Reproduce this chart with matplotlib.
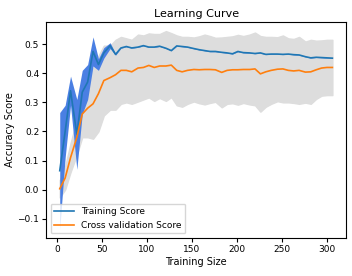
import matplotlib
matplotlib.use('Agg')
import matplotlib.pyplot as plt
import numpy as np

train_sizes = [3, 9, 15, 22, 28, 34, 40, 46, 52, 59, 65, 71, 77, 83, 90, 96, 102,
               108, 114, 121, 127, 133, 139, 145, 152, 158, 164, 170, 176, 183,
               189, 195, 201, 207, 214, 220, 226, 232, 238, 245, 251, 257, 263,
               269, 276, 282, 288, 294, 300, 306]

train_mean = [0.065, 0.20, 0.34, 0.19, 0.335, 0.37, 0.475, 0.43, 0.47, 0.495,
              0.465, 0.487, 0.492, 0.487, 0.490, 0.495, 0.490, 0.490, 0.493,
              0.486, 0.478, 0.494, 0.492, 0.490, 0.485, 0.481, 0.478, 0.475,
              0.475, 0.472, 0.470, 0.467, 0.475, 0.471, 0.470, 0.468, 0.470,
              0.465, 0.466, 0.466, 0.465, 0.466, 0.464, 0.463, 0.457, 0.453,
              0.455, 0.454, 0.453, 0.452]
train_std = [0.20, 0.09, 0.05, 0.12, 0.075, 0.06, 0.05, 0.02, 0.018, 0.01,
             0.003] + [0.0008] * 39

cv_mean = [0.003, 0.04, 0.11, 0.18, 0.26, 0.28, 0.295, 0.33, 0.375, 0.385,
           0.395, 0.41, 0.41, 0.405, 0.418, 0.42, 0.427, 0.42, 0.425, 0.425,
           0.428, 0.41, 0.405, 0.41, 0.413, 0.412, 0.413, 0.413, 0.412, 0.403,
           0.41, 0.412, 0.412, 0.413, 0.413, 0.415, 0.398, 0.405, 0.41, 0.414,
           0.415, 0.41, 0.408, 0.41, 0.404, 0.405, 0.412, 0.418, 0.42, 0.42]
cv_std = [0.03, 0.04, 0.05, 0.06, 0.08, 0.10, 0.12, 0.13, 0.12, 0.11, 0.12,
          0.115, 0.11, 0.11, 0.115, 0.11, 0.11, 0.115, 0.11, 0.12, 0.11, 0.12,
          0.12, 0.115, 0.11, 0.115, 0.12, 0.115, 0.11, 0.12, 0.115, 0.115,
          0.12, 0.115, 0.12, 0.125, 0.13, 0.12, 0.115, 0.11, 0.115, 0.11,
          0.11, 0.115, 0.105, 0.11, 0.10, 0.095, 0.095, 0.095]

x = np.array(train_sizes)
tm, ts = np.array(train_mean), np.array(train_std)
cm, cs = np.array(cv_mean), np.array(cv_std)

fig = plt.figure(figsize=(3.52, 2.76), dpi=100)
ax = fig.add_axes([0.131, 0.138, 0.852, 0.782])

ax.plot(x, tm, color='#1f77b4', lw=1.2, label='Training Score')
ax.plot(x, cm, color='#ff7f0e', lw=1.2, label='Cross validation Score')
# grey band first so the blue one sits on top
ax.fill_between(x, cm - cs, cm + cs, color='#dddddd')
ax.fill_between(x, tm - ts, tm + ts, color='#4a7fe3', lw=0)

ax.set_ylim(-0.166, 0.576)
ax.set_title('Learning Curve', fontsize=8, pad=4)
ax.set_xlabel('Training Size', fontsize=7, labelpad=2)
ax.set_ylabel('Accuracy Score', fontsize=7, labelpad=2)
ax.tick_params(labelsize=6.5, length=3, pad=2)
ax.legend(loc='lower left', fontsize=6.5, handlelength=2.2)

fig.savefig('out.png', dpi=100)
